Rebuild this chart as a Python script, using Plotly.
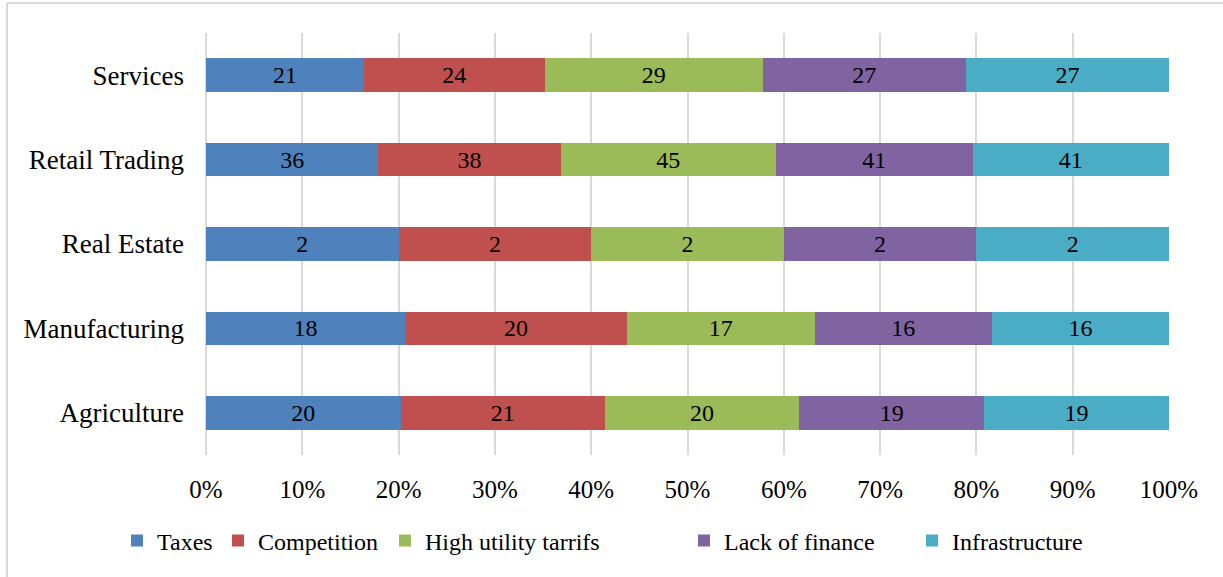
import plotly.graph_objects as go

categories = ["Agriculture", "Manufacturing", "Real Estate", "Retail Trading", "Services"]
series_names = ["Taxes", "Competition", "High utility tarrifs", "Lack of finance", "Infrastructure"]
taxes = [20, 18, 2, 36, 21]
competition = [21, 20, 2, 38, 24]
utility = [20, 17, 2, 45, 29]
finance = [19, 16, 2, 41, 27]
infrastructure = [19, 16, 2, 41, 27]
colors = ["#4F81BD", "#C0504D", "#9BBB59", "#8064A2", "#4BACC6"]
x_ticks = [0, 10, 20, 30, 40, 50, 60, 70, 80, 90, 100]

FONT = "Liberation Serif, Times New Roman, serif"

W, H = 1223, 577
L, R, T, B = 206, 1169, 33, 455
pw, ph = R - L, B - T

def px(p):
    return (p - L) / pw

def py(q):
    return (B - q) / ph

# legend anchor positions (pixels)
legend_square_x = [134, 235, 402, 701, 929]
legend_ids = ["legend", "legend2", "legend3", "legend4", "legend5"]

fig = go.Figure()
for name, vals, col, lid in zip(series_names, [taxes, competition, utility, finance, infrastructure], colors, legend_ids):
    fig.add_trace(go.Bar(
        y=categories, x=vals, name=name, orientation="h",
        marker=dict(color=col, line=dict(width=0)),
        text=vals, texttemplate="%{text}", textposition="inside",
        insidetextanchor="middle", textangle=0,
        textfont=dict(family=FONT, size=24, color="black"),
        legend=lid,
    ))

legend_layouts = {}
for lid, sx in zip(legend_ids, legend_square_x):
    legend_layouts[lid] = dict(
        orientation="h", x=px(sx - 17), xanchor="left", y=py(541), yanchor="middle",
        font=dict(family=FONT, size=24, color="black"),
        bgcolor="rgba(0,0,0,0)", borderwidth=0,
    )

fig.update_layout(
    width=W, height=H,
    barmode="stack", barnorm="percent", bargap=0.6,
    plot_bgcolor="white", paper_bgcolor="white",
    margin=dict(l=L, r=W - R, t=T, b=H - B, pad=0),
    font=dict(family=FONT, size=24, color="black"),
    uniformtext=dict(minsize=10, mode="show"),
    xaxis=dict(range=[0, 100], tickvals=x_ticks, ticktext=[f"{v}%" for v in x_ticks],
               showgrid=True, gridcolor="#D9D9D9", gridwidth=1.5,
               zeroline=True, zerolinecolor="#D9D9D9", zerolinewidth=1.5,
               showline=False, ticks="", ticklabelstandoff=17,
               tickfont=dict(family=FONT, size=25, color="black")),
    yaxis=dict(showgrid=False, zeroline=False, showline=False, ticks="",
               ticklabelstandoff=21,
               tickfont=dict(family=FONT, size=27, color="black")),
    showlegend=True,
    shapes=[
        dict(type="line", xref="paper", yref="paper", x0=px(7), x1=px(1230), y0=py(3), y1=py(3),
             line=dict(color="#D9D9D9", width=2)),
        dict(type="line", xref="paper", yref="paper", x0=px(7), x1=px(7), y0=py(3), y1=py(585),
             line=dict(color="#D9D9D9", width=2)),
    ],
    **legend_layouts,
)

fig.write_html("out.html", config={"displayModeBar": False},
               post_script="document.body.style.margin='0px';")
